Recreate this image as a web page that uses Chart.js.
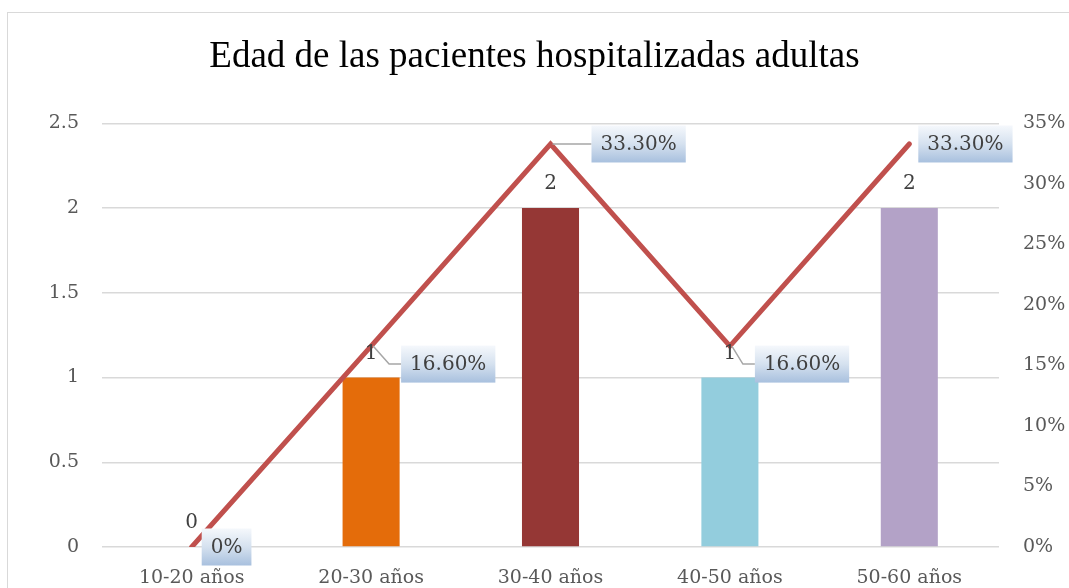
<!DOCTYPE html>
<html>
<head>
<meta charset="utf-8">
<script src="https://cdn.jsdelivr.net/npm/chart.js@4/dist/chart.umd.min.js"></script>
<style>
  html, body { margin: 0; padding: 0; background: #fff; }
  #wrap { width: 1069px; height: 588px; }
</style>
</head>
<body>
<div id="wrap"><canvas id="chart" width="1069" height="588"></canvas></div>
<script>
// data
const categories = ["10-20 años", "20-30 años", "30-40 años", "40-50 años", "50-60 años"];
const patients = [0, 1, 2, 1, 2];
const percents = [0, 16.6, 33.3, 16.6, 33.3];
const leftTicks = [0, 0.5, 1, 1.5, 2, 2.5];
const rightTicks = [0, 5, 10, 15, 20, 25, 30, 35];

const barColors = ["#E46C0A", "#E46C0A", "#953735", "#93CDDD", "#B3A2C7"];
const labelFont = "DejaVu Serif";
const textGrey = "#404040";

// where each percent box sits relative to its point: [dx to box left, dy to box centre]
const boxOffsets = [[10, 0], [30, 18], [41, 0], [25, 18], [9, 0]];

function pctText(v) {
  return v === 0 ? "0%" : v.toFixed(2) + "%";
}

const frame = {
  id: "frame",
  beforeDraw(chart) {
    const ctx = chart.ctx;
    ctx.save();
    ctx.fillStyle = "#fff";
    ctx.fillRect(0, 0, chart.width, chart.height);
    ctx.strokeStyle = "#d9d9d9";
    ctx.lineWidth = 1;
    ctx.strokeRect(7.5, 12.5, chart.width + 10, chart.height + 10);
    ctx.restore();
  },
};

const valueLabels = {
  id: "valueLabels",
  afterDatasetsDraw(chart) {
    const ctx = chart.ctx;
    ctx.save();
    ctx.font = "20px '" + labelFont + "'";
    ctx.textAlign = "center";
    ctx.textBaseline = "middle";
    ctx.fillStyle = textGrey;
    const bars = chart.getDatasetMeta(1).data;
    bars.forEach((b, i) => {
      ctx.fillText(String(patients[i]), b.x, b.y - 24);
    });

    const pts = chart.getDatasetMeta(0).data;
    pts.forEach((p, i) => {
      const txt = pctText(percents[i]);
      const w = ctx.measureText(txt).width + 18;
      const h = 37;
      const bx = p.x + boxOffsets[i][0];
      const by = p.y + boxOffsets[i][1];
      // leader line
      if (boxOffsets[i][0] > 15) {
        ctx.strokeStyle = "#a6a6a6";
        ctx.lineWidth = 1.5;
        ctx.beginPath();
        ctx.moveTo(p.x + 2, p.y);
        if (boxOffsets[i][1] !== 0) ctx.lineTo(bx - 12, by);
        ctx.lineTo(bx, by);
        ctx.stroke();
      }
      const g = ctx.createLinearGradient(0, by - h / 2, 0, by + h / 2);
      g.addColorStop(0, "#f5f8fc");
      g.addColorStop(0.5, "#d5e1ef");
      g.addColorStop(1, "#a8c0de");
      ctx.fillStyle = g;
      ctx.fillRect(bx, by - h / 2, w, h);
      ctx.fillStyle = textGrey;
      ctx.fillText(txt, bx + w / 2, by + 1);
    });
    ctx.restore();
  },
};

new Chart(document.getElementById("chart"), {
  data: {
    labels: categories,
    datasets: [
      {
        type: "line",
        data: percents,
        yAxisID: "y1",
        borderColor: "#C0504D",
        borderWidth: 5,
        borderCapStyle: "round",
        borderJoinStyle: "miter",
        pointRadius: 0,
        tension: 0,
        order: 0,
      },
      {
        type: "bar",
        data: patients,
        yAxisID: "y",
        backgroundColor: barColors,
        categoryPercentage: 1,
        barPercentage: 0.318,
        order: 1,
      },
    ],
  },
  options: {
    responsive: false,
    animation: false,
    layout: { padding: { left: 0, right: 0, top: 0, bottom: 0 } },
    plugins: {
      legend: { display: false },
      tooltip: { enabled: false },
      title: {
        display: true,
        text: "Edad de las pacientes hospitalizadas adultas",
        color: "#000",
        font: { family: "Liberation Serif", size: 37, weight: "normal", lineHeight: 1.2 },
        padding: { top: 35, bottom: 44 },
      },
    },
    scales: {
      x: {
        grid: { display: false, drawTicks: false },
        border: { display: false },
        ticks: { color: "#595959", font: { family: labelFont, size: 19 }, padding: 20, maxRotation: 0 },
        afterFit(s) { s.height = 41; },
      },
      y: {
        position: "left",
        min: 0,
        max: 2.5,
        afterBuildTicks(s) { s.ticks = leftTicks.map((v) => ({ value: v })); },
        grid: { color: "#d9d9d9", lineWidth: 1.5, drawTicks: false },
        border: { display: false },
        ticks: { color: "#595959", font: { family: labelFont, size: 19 }, padding: 23, callback: (v) => String(v) },
        afterFit(s) { s.width = 102; },
      },
      y1: {
        position: "right",
        min: 0,
        max: 35,
        afterBuildTicks(s) { s.ticks = rightTicks.map((v) => ({ value: v })); },
        grid: { display: false, drawTicks: false },
        border: { display: false },
        ticks: { color: "#595959", font: { family: labelFont, size: 19 }, padding: 24, callback: (v) => v + "%" },
        afterFit(s) { s.width = 70; },
      },
    },
  },
  plugins: [frame, valueLabels],
});
</script>
</body>
</html>
